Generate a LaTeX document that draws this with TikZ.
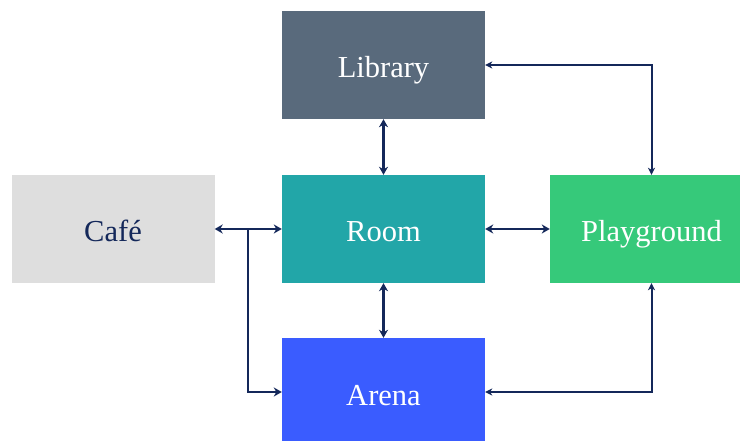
\documentclass[tikz,border=0pt]{standalone}
\usepackage{fontspec}
\setmainfont{Liberation Serif}
\usetikzlibrary{arrows.meta,calc}
\definecolor{navy}{HTML}{14285A}
\definecolor{libcol}{HTML}{596A7C}
\definecolor{roomcol}{HTML}{22A6A8}
\definecolor{playcol}{HTML}{36C97A}
\definecolor{arenacol}{HTML}{3A5CFF}
\definecolor{cafecol}{HTML}{DEDEDE}
\tikzset{
  place/.style={rectangle, minimum width=203pt, minimum height=108pt, inner sep=0pt,
    text=white, font=\fontsize{30.5}{34}\selectfont, text height=26pt, text depth=0pt},
  link/.style={draw=navy, line width=2.3pt, {Stealth[length=8pt,width=9pt,inset=2.5pt]}-{Stealth[length=8pt,width=9pt,inset=2.5pt]}},
  loop/.style={draw=navy, line width=2pt, {Stealth[length=7pt,width=7pt,inset=2pt]}-{Stealth[length=7pt,width=7pt,inset=2pt]}},
  branch/.style={draw=navy, line width=2.3pt, -{Stealth[length=8pt,width=9pt,inset=2.5pt]}}
}
\begin{document}
\begin{tikzpicture}[x=1pt,y=-1pt]
  \useasboundingbox (0,0) rectangle (740,441);
  \node[place, fill=libcol]   (library)    at (383.5,65)  {Library};
  \node[place, fill=cafecol, text=navy] (cafe) at (113,229) {Café};
  \node[place, fill=roomcol]  (room)       at (383.5,229) {Room};
  \node[place, fill=playcol]  (playground) at (651.5,229) {Playground};
  \node[place, fill=arenacol] (arena)      at (383.5,392) {Arena};

  \coordinate (split) at ($(cafe.east)!0.5!(room.west)$);

  \draw[link] (library.south) -- (room.north);
  \draw[link] (room.south) -- (arena.north);
  \draw[link] (cafe.east) -- (room.west);
  \draw[link] (room.east) -- (playground.west);
  \draw[loop] (library.east) -| (playground.north);
  \draw[loop] (arena.east) -| (playground.south);
  \draw[branch] (split) |- (arena.west);
\end{tikzpicture}
\end{document}
